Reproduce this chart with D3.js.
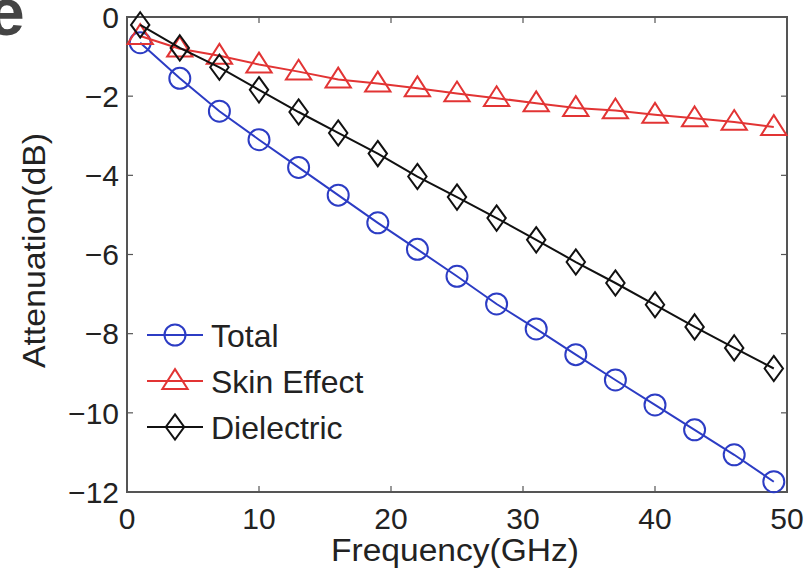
<!DOCTYPE html>
<html lang="en">
<head>
<meta charset="utf-8">
<title>Attenuation vs frequency</title>
<script src="https://d3js.org/d3.v7.min.js"></script>
<style>
  body { margin: 0; background: #fff; }
  svg text { font-family: "Liberation Sans", Arial, Helvetica, sans-serif; fill: #222; }
</style>
</head>
<body>
<div id="plot"></div>
<script>
// data
var freq = [1, 4, 7, 10, 13, 16, 19, 22, 25, 28, 31, 34, 37, 40, 43, 46, 49];
var total = [-0.65, -1.55, -2.38, -3.1, -3.8, -4.5, -5.2, -5.87, -6.55, -7.25, -7.88, -8.53, -9.17, -9.8, -10.43, -11.06, -11.74];
var skin = [-0.48, -0.8, -0.98, -1.2, -1.38, -1.58, -1.68, -1.8, -1.93, -2.05, -2.18, -2.3, -2.36, -2.47, -2.56, -2.65, -2.78];
var dielectric = [-0.2, -0.78, -1.27, -1.84, -2.4, -2.93, -3.45, -4.03, -4.55, -5.08, -5.63, -6.19, -6.72, -7.27, -7.83, -8.36, -8.88];
var xTicks = [0, 10, 20, 30, 40, 50];
var yTicks = [0, -2, -4, -6, -8, -10, -12];
var seriesNames = ["Total", "Skin Effect", "Dielectric"];

var W = 808, H = 569;
var margin = { top: 17, right: 21, bottom: 77, left: 127 };
var width = W - margin.left - margin.right,
    height = H - margin.top - margin.bottom;

var svg = d3.select("#plot").append("svg")
    .attr("width", W)
    .attr("height", H);

// clipped caption letter at the top-left corner
svg.append("text")
    .attr("x", -12).attr("y", 35)
    .style("font-size", "66px").style("font-weight", "bold")
    .style("fill", "#444")
    .text("e");

var g = svg.append("g")
    .attr("transform", "translate(" + margin.left + "," + margin.top + ")");

var x = d3.scaleLinear().domain([0, 50]).range([0, width]);
var y = d3.scaleLinear().domain([-12, 0]).range([height, 0]);

// axes box
var axisColor = "#555";
g.append("rect")
    .attr("x", 0).attr("y", 0)
    .attr("width", width).attr("height", height)
    .attr("fill", "none").attr("stroke", axisColor).attr("stroke-width", 2);

// inward ticks on all four sides
var tl = 6;
xTicks.forEach(function (t) {
    g.append("line").attr("x1", x(t)).attr("x2", x(t)).attr("y1", height).attr("y2", height - tl)
        .attr("stroke", axisColor).attr("stroke-width", 1.2);
    g.append("line").attr("x1", x(t)).attr("x2", x(t)).attr("y1", 0).attr("y2", tl)
        .attr("stroke", axisColor).attr("stroke-width", 1.2);
    g.append("text")
        .attr("x", x(t)).attr("y", height + 37)
        .attr("text-anchor", "middle")
        .style("font-size", "30px")
        .text(t);
});
yTicks.forEach(function (t) {
    g.append("line").attr("x1", 0).attr("x2", tl).attr("y1", y(t)).attr("y2", y(t))
        .attr("stroke", axisColor).attr("stroke-width", 1.2);
    g.append("line").attr("x1", width).attr("x2", width - tl).attr("y1", y(t)).attr("y2", y(t))
        .attr("stroke", axisColor).attr("stroke-width", 1.2);
    g.append("text")
        .attr("x", -8).attr("y", y(t)).attr("dy", "0.36em")
        .attr("text-anchor", "end")
        .style("font-size", "30px")
        .text(t < 0 ? "\u2212" + Math.abs(t) : t);
});

// axis titles
svg.append("text")
    .attr("x", margin.left + width / 2 - 2).attr("y", 561)
    .attr("text-anchor", "middle")
    .style("font-size", "31px")
    .attr("textLength", 248).attr("lengthAdjust", "spacingAndGlyphs")
    .text("Frequency(GHz)");

svg.append("text")
    .attr("transform", "translate(45," + (margin.top + height / 2 - 4) + ") rotate(-90)")
    .attr("text-anchor", "middle")
    .style("font-size", "32px")
    .attr("textLength", 235).attr("lengthAdjust", "spacingAndGlyphs")
    .text("Attenuation(dB)");

// marker shapes
function circlePath(s) {
    var r = s / 2;
    return "M" + (-r) + ",0A" + r + "," + r + " 0 1,0 " + r + ",0A" + r + "," + r + " 0 1,0 " + (-r) + ",0Z";
}
function trianglePath(s) {
    var w = s * 1.15, h = s * 0.9;
    return "M0," + (-h * 0.6) + "L" + (w / 2) + "," + (h * 0.4) + "L" + (-w / 2) + "," + (h * 0.4) + "Z";
}
function diamondPath(s) {
    var w = s * 0.8, h = s * 1.1;
    return "M0," + (-h / 2) + "L" + (w / 2) + ",0L0," + (h / 2) + "L" + (-w / 2) + ",0Z";
}

var series = [
    { name: seriesNames[0], values: total, color: "#2c3cc4", marker: circlePath, size: 21 },
    { name: seriesNames[1], values: skin, color: "#e23434", marker: trianglePath, size: 22 },
    { name: seriesNames[2], values: dielectric, color: "#111", marker: diamondPath, size: 23 }
];

var line = d3.line()
    .x(function (d) { return x(d[0]); })
    .y(function (d) { return y(d[1]); });

series.forEach(function (s) {
    var pts = freq.map(function (f, i) { return [f, s.values[i]]; });
    g.append("path")
        .datum(pts)
        .attr("fill", "none")
        .attr("stroke", s.color)
        .attr("stroke-width", 2)
        .attr("d", line);
    g.selectAll(null)
        .data(pts)
        .enter()
        .append("path")
        .attr("transform", function (d) { return "translate(" + x(d[0]) + "," + y(d[1]) + ")"; })
        .attr("d", s.marker(s.size))
        .attr("fill", "none")
        .attr("stroke", s.color)
        .attr("stroke-width", 2);
});

// legend
var legend = svg.append("g").attr("transform", "translate(147,335)");
series.forEach(function (s, i) {
    var row = legend.append("g").attr("transform", "translate(0," + (i * 46) + ")");
    row.append("line")
        .attr("x1", 0).attr("x2", 56).attr("y1", 0).attr("y2", 0)
        .attr("stroke", s.color).attr("stroke-width", 2);
    row.append("path")
        .attr("transform", "translate(28,0)")
        .attr("d", s.marker(s.size))
        .attr("fill", "none").attr("stroke", s.color).attr("stroke-width", 2);
    row.append("text")
        .attr("x", 64).attr("y", 0).attr("dy", "0.36em")
        .style("font-size", "32px")
        .text(s.name);
});
</script>
</body>
</html>
